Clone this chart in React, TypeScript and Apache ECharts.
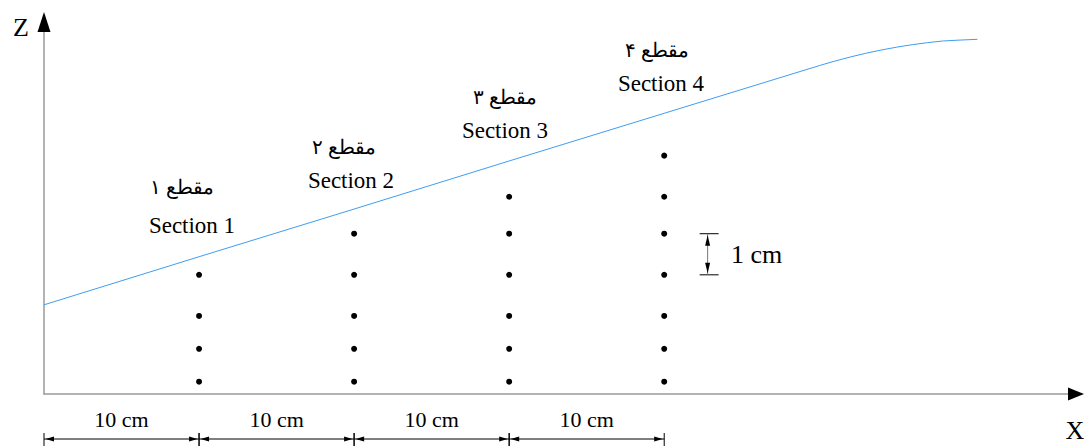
import React, { useEffect, useRef } from "react";
import * as echarts from "echarts";

// Section positions along X (cm) and measuring points depth Z (cm)
const sectionX = [10, 20, 30, 40];
const section1Z = [2.9, 1.9, 1.1, 0.3];
const section2Z = [3.9, 2.9, 1.9, 1.1, 0.3];
const section3Z = [4.8, 3.9, 2.9, 1.9, 1.1, 0.3];
const section4Z = [5.8, 4.8, 3.9, 2.9, 1.9, 1.1, 0.3];
const sectionsZ = [section1Z, section2Z, section3Z, section4Z];

// Water surface profile
const profileX = [0, 10, 20, 30, 40, 50, 51, 52, 53, 54, 55, 56, 57, 58, 59, 60.2];
const profileZ = [2.17, 3.34, 4.5, 5.67, 6.83, 7.99, 8.1, 8.2, 8.29, 8.37, 8.44, 8.5, 8.55, 8.59, 8.61, 8.63];

// Dimension spans along X
const dimSpans = [
  [0, 10],
  [10, 20],
  [20, 30],
  [30, 40],
];
const dimLabel = "10 cm";

// 1 cm scale marker: [x, zLow, zHigh]
const oneCm = [[42.8, 2.9, 3.9]];
const oneCmLabel = "1 cm";

const sectionEn = ["Section 1", "Section 2", "Section 3", "Section 4"];
const sectionFa = ["مقطع ۱", "مقطع ۲", "مقطع ۳", "مقطع ۴"];

const SERIF = '"Liberation Serif", "Times New Roman", "DejaVu Serif", serif';

export default function App() {
  const ref = useRef<HTMLDivElement>(null);

  useEffect(() => {
    if (!ref.current) return;
    const chart = echarts.init(ref.current, null, { renderer: "svg" });

    const enPos = [
      [192, 225],
      [351, 180],
      [505, 130],
      [661, 83],
    ];
    const faPos = [
      [182, 187],
      [344, 147],
      [505, 97],
      [657, 50],
    ];

    const graphics: any[] = [
      {
        type: "polygon",
        shape: { points: [[44, 12], [37.5, 32], [50.5, 32]] },
        style: { fill: "#000" },
        z: 100,
      },
      {
        type: "polygon",
        shape: { points: [[1084, 394], [1068, 387.5], [1068, 400.5]] },
        style: { fill: "#000" },
        z: 100,
      },
      {
        type: "text",
        x: 21,
        y: 27,
        style: { text: "Z", font: `26px ${SERIF}`, fill: "#000", align: "center", verticalAlign: "middle" },
      },
      {
        type: "text",
        x: 1075,
        y: 430,
        style: { text: "X", font: `26px ${SERIF}`, fill: "#000", align: "center", verticalAlign: "middle" },
      },
    ];
    sectionEn.forEach((t, i) => {
      graphics.push({
        type: "text",
        x: enPos[i][0],
        y: enPos[i][1],
        style: { text: t, font: `23px ${SERIF}`, fill: "#000", align: "center", verticalAlign: "middle" },
      });
      graphics.push({
        type: "text",
        x: faPos[i][0],
        y: faPos[i][1],
        style: { text: sectionFa[i], font: `20px ${SERIF}`, fill: "#000", align: "center", verticalAlign: "middle" },
      });
    });

    const dotSeries = sectionsZ.map((zs, i) => ({
      type: "scatter",
      data: zs.map((z) => [sectionX[i], z]),
      symbol: "circle",
      symbolSize: 6,
      itemStyle: { color: "#000", opacity: 1 },
      silent: true,
    }));

    chart.setOption({
      animation: false,
      backgroundColor: "#fff",
      grid: { left: 44, right: 12, top: 20, bottom: 52 },
      xAxis: {
        type: "value",
        min: 0,
        max: 66.3,
        axisLine: { show: true, lineStyle: { color: "#9a9a9a", width: 1.5 } },
        axisTick: { show: false },
        axisLabel: { show: false },
        splitLine: { show: false },
      },
      yAxis: {
        type: "value",
        min: 0,
        max: 9.1,
        axisLine: { show: true, lineStyle: { color: "#9a9a9a", width: 1.5 } },
        axisTick: { show: false },
        axisLabel: { show: false },
        splitLine: { show: false },
      },
      graphic: graphics,
      series: [
        {
          type: "line",
          data: profileX.map((x, i) => [x, profileZ[i]]),
          showSymbol: false,
          symbol: "none",
          lineStyle: { color: "#3f9cf2", width: 1 },
          silent: true,
        },
        ...dotSeries,
        {
          type: "custom",
          clip: false,
          silent: true,
          data: dimSpans,
          renderItem: (params: any, api: any) => {
            const p0 = api.coord([api.value(0), 0]);
            const p1 = api.coord([api.value(1), 0]);
            const y = p0[1] + 45;
            const c = "#000";
            return {
              type: "group",
              children: [
                { type: "line", shape: { x1: p0[0], y1: y, x2: p1[0], y2: y }, style: { stroke: c, lineWidth: 1 } },
                { type: "line", shape: { x1: p0[0], y1: y - 6, x2: p0[0], y2: y + 8 }, style: { stroke: c, lineWidth: 1 } },
                { type: "line", shape: { x1: p1[0], y1: y - 6, x2: p1[0], y2: y + 8 }, style: { stroke: c, lineWidth: 1 } },
                {
                  type: "polygon",
                  shape: { points: [[p0[0] + 1.5, y], [p0[0] + 10, y - 2.5], [p0[0] + 10, y + 2.5]] },
                  style: { fill: c },
                },
                {
                  type: "polygon",
                  shape: { points: [[p1[0] - 1.5, y], [p1[0] - 10, y - 2.5], [p1[0] - 10, y + 2.5]] },
                  style: { fill: c },
                },
                {
                  type: "text",
                  style: {
                    text: dimLabel,
                    x: (p0[0] + p1[0]) / 2,
                    y: y - 20,
                    align: "center",
                    verticalAlign: "middle",
                    font: `22px ${SERIF}`,
                    fill: c,
                  },
                },
              ],
            };
          },
        },
        {
          type: "custom",
          clip: false,
          silent: true,
          data: oneCm,
          renderItem: (params: any, api: any) => {
            const x = api.value(0);
            const pb = api.coord([x, api.value(1)]);
            const pt = api.coord([x, api.value(2)]);
            const c = "#000";
            return {
              type: "group",
              children: [
                { type: "line", shape: { x1: pt[0] - 8, y1: pt[1], x2: pt[0] + 11, y2: pt[1] }, style: { stroke: c, lineWidth: 1 } },
                { type: "line", shape: { x1: pb[0] - 8, y1: pb[1], x2: pb[0] + 11, y2: pb[1] }, style: { stroke: c, lineWidth: 1 } },
                { type: "line", shape: { x1: pt[0], y1: pt[1], x2: pb[0], y2: pb[1] }, style: { stroke: "#777", lineWidth: 1 } },
                {
                  type: "polygon",
                  shape: { points: [[pt[0], pt[1] + 1.5], [pt[0] - 2.5, pt[1] + 12], [pt[0] + 2.5, pt[1] + 12]] },
                  style: { fill: c },
                },
                {
                  type: "polygon",
                  shape: { points: [[pb[0], pb[1] - 1.5], [pb[0] - 2.5, pb[1] - 12], [pb[0] + 2.5, pb[1] - 12]] },
                  style: { fill: c },
                },
                {
                  type: "text",
                  style: {
                    text: oneCmLabel,
                    x: pt[0] + 49,
                    y: (pt[1] + pb[1]) / 2,
                    align: "center",
                    verticalAlign: "middle",
                    font: `26px ${SERIF}`,
                    fill: c,
                  },
                },
              ],
            };
          },
        },
      ],
    });

    return () => chart.dispose();
  }, []);

  return (
    <div
      ref={ref}
      style={{ position: "fixed", left: 0, top: 0, width: 1084, height: 446, background: "#fff" }}
    />
  );
}
